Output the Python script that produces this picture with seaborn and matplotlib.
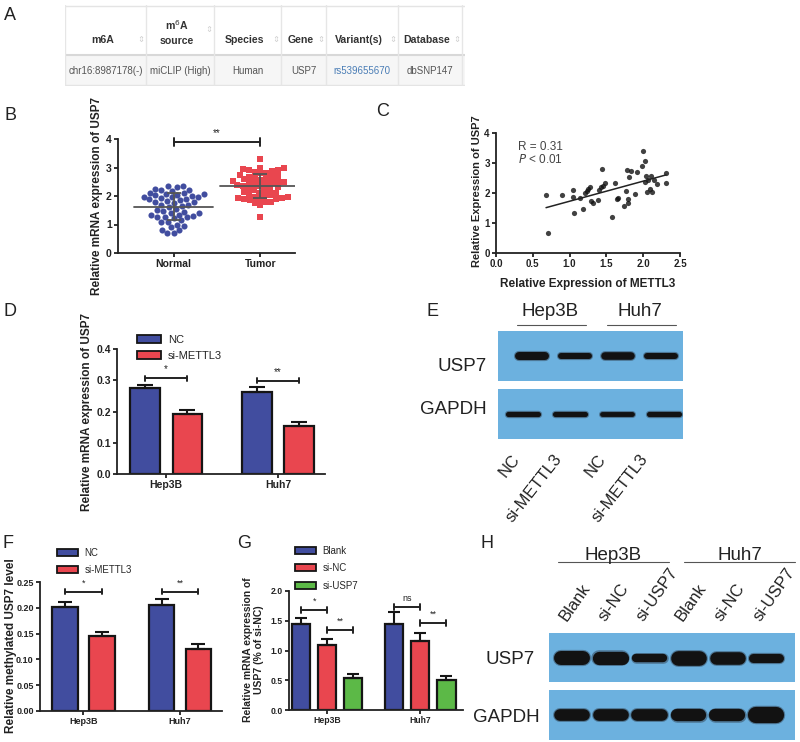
import numpy as np
import pandas as pd
import matplotlib
matplotlib.use('Agg')
import matplotlib.pyplot as plt
import matplotlib.transforms as mtransforms
from matplotlib.patches import Rectangle, Patch
from matplotlib.lines import Line2D
import seaborn as sns

sns.set_theme(style="ticks")
plt.rcParams['font.family'] = ['Liberation Sans', 'DejaVu Sans']

# --- dados ---
table_cols = ['m6A', 'm$^6$A\nsource', 'Species', 'Gene', 'Variant(s)', 'Database']
table_row = ['chr16:8987178(-)', 'miCLIP (High)', 'Human', 'USP7', 'rs539655670', 'dbSNP147']

normal_b = [2.36, 2.35, 2.33, 2.25, 2.22, 2.2, 2.18, 2.12, 2.1, 2.08, 2.06, 2.05, 2.02,
            2.0, 1.98, 1.95, 1.95, 1.92, 1.9, 1.88, 1.85, 1.82, 1.8, 1.78, 1.75, 1.7,
            1.68, 1.65, 1.62, 1.55, 1.5, 1.48, 1.45, 1.42, 1.4, 1.35, 1.32, 1.3, 1.28,
            1.26, 1.25, 1.22, 1.15, 1.1, 1.08, 1.0, 0.95, 0.9, 0.82, 0.8, 0.7, 0.7]
tumor_b = [3.3, 3.0, 2.98, 2.95, 2.92, 2.9, 2.88, 2.85, 2.82, 2.8, 2.72, 2.7, 2.68, 2.65,
           2.62, 2.6, 2.58, 2.55, 2.52, 2.5, 2.5, 2.48, 2.45, 2.42, 2.4, 2.38, 2.36, 2.35,
           2.3, 2.28, 2.25, 2.22, 2.2, 2.15, 2.12, 2.1, 2.08, 2.05, 2.0, 1.98, 1.95, 1.93,
           1.92, 1.9, 1.9, 1.88, 1.85, 1.8, 1.8, 1.75, 1.68, 1.28]

mettl3_c = [0.68, 0.71, 0.90, 1.04, 1.04, 1.06, 1.14, 1.18, 1.21, 1.23, 1.25, 1.28, 1.29,
            1.32, 1.39, 1.40, 1.42, 1.44, 1.46, 1.48, 1.57, 1.62, 1.64, 1.66, 1.74, 1.76,
            1.78, 1.79, 1.80, 1.81, 1.83, 1.89, 1.91, 1.98, 2.00, 2.02, 2.03, 2.04, 2.05,
            2.06, 2.09, 2.10, 2.12, 2.15, 2.19, 2.31, 2.31]
usp7_c = [1.93, 0.66, 1.92, 2.10, 1.87, 1.33, 1.83, 1.47, 2.00, 2.08, 2.14, 2.20, 1.74,
          1.67, 1.78, 2.11, 2.20, 2.79, 2.24, 2.34, 1.20, 2.34, 1.80, 1.83, 1.58, 2.06,
          2.78, 1.80, 1.67, 2.53, 2.74, 1.98, 2.71, 2.89, 3.39, 2.36, 3.08, 2.56, 2.02,
          2.44, 2.13, 2.58, 2.02, 2.44, 2.30, 2.67, 2.33]

cell_lines = ['Hep3B', 'Huh7']
groups_d = ['NC', 'si-METTL3']
d_nc = [0.275, 0.262]
d_si = [0.193, 0.153]
d_nc_err = [0.010, 0.017]
d_si_err = [0.012, 0.012]

f_nc = [0.202, 0.206]
f_si = [0.146, 0.120]
f_nc_err = [0.010, 0.012]
f_si_err = [0.008, 0.010]

groups_g = ['Blank', 'si-NC', 'si-USP7']
g_blank = [1.45, 1.45]
g_sinc = [1.10, 1.16]
g_siusp7 = [0.53, 0.50]
g_blank_err = [0.10, 0.20]
g_sinc_err = [0.10, 0.14]
g_siusp7_err = [0.07, 0.07]

lanes_e = ['NC', 'si-METTL3', 'NC', 'si-METTL3']
usp7_e = [1.0, 0.75, 0.95, 0.75]
gapdh_e = [0.8, 0.8, 0.75, 0.8]
lanes_h = ['Blank', 'si-NC', 'si-USP7', 'Blank', 'si-NC', 'si-USP7']
usp7_h = [1.0, 0.95, 0.6, 1.05, 0.9, 0.65]
gapdh_h = [0.9, 0.9, 0.9, 0.95, 0.95, 1.25]

BLUE = '#414d9f'
RED = '#e9464f'
GREEN = '#5cb947'
BLOT = '#6cb1df'

W, H = 800, 742
fig = plt.figure(figsize=(W / 100, H / 100), dpi=100)


def box(x0, y0, x1, y1):
    return fig.add_axes([x0 / W, 1 - y1 / H, (x1 - x0) / W, (y1 - y0) / H])


def ftext(x, y, s, **kw):
    fig.text(x / W, 1 - y / H, s, **kw)


def style_axes(ax, fs=7):
    sns.despine(ax=ax)
    for sp in ['left', 'bottom']:
        ax.spines[sp].set_linewidth(1.3)
        ax.spines[sp].set_color('#222222')
    ax.tick_params(width=1.3, length=3, labelsize=fs, pad=1.5, colors='#222222')
    for lab in ax.get_xticklabels() + ax.get_yticklabels():
        lab.set_fontweight('bold')
    ax.set_facecolor('none')


def ylabel_at(ax, text, x, y, fs=8):
    ax.set_ylabel(text, fontsize=fs, fontweight='bold', color='#222222')
    ax.yaxis.set_label_coords(x / W, 1 - y / H, transform=fig.transFigure)


def sig(ax, x1, x2, y, text, h, fs=7):
    ax.plot([x1, x2], [y, y], color='#222222', lw=1.4, clip_on=False)
    ax.plot([x1, x1], [y - h, y + h], color='#222222', lw=1.4, clip_on=False)
    ax.plot([x2, x2], [y - h, y + h], color='#222222', lw=1.4, clip_on=False)
    ax.annotate(text, xy=((x1 + x2) / 2, y), xytext=(0, 3), textcoords='offset points',
                ha='center', va='bottom', fontsize=fs, color='#222222', annotation_clip=False)


def bars(ax, df, hue_order, palette, width, gap, errs, capsize):
    sns.barplot(data=df, x='line', y='value', hue='group', order=cell_lines,
                hue_order=hue_order, palette=palette, width=width, gap=gap, saturation=1,
                edgecolor='#151515', linewidth=1.6, errorbar=None, legend=False, ax=ax)
    centers = []
    for cont, err in zip(ax.containers, errs):
        cs = []
        for bar, e in zip(cont, err):
            x = bar.get_x() + bar.get_width() / 2
            ax.errorbar(x, bar.get_height(), yerr=[[0], [e]], fmt='none', ecolor='#151515',
                        elinewidth=1.5, capsize=capsize, capthick=1.5, zorder=1)
            cs.append(x)
        centers.append(cs)
    return centers


def legend_at(handles_labels, x, y, fs, spacing):
    handles = [Patch(facecolor=c, edgecolor='#151515', linewidth=1.3) for c, _ in handles_labels]
    fig.legend(handles, [l for _, l in handles_labels], loc='upper left',
               bbox_to_anchor=(x / W, 1 - y / H), frameon=False, fontsize=fs,
               handlelength=2.2, handleheight=0.75, handletextpad=0.6,
               labelspacing=spacing, borderaxespad=0, borderpad=0)


# ---------------- Panel A: tabela ----------------
ax_t = box(65, 5, 465, 86)
ax_t.set_xlim(65, 465)
ax_t.set_ylim(86, 5)
ax_t.axis('off')
edges = [65, 146, 214, 281, 326, 398, 462]
ax_t.add_patch(Rectangle((65, 55), 400, 30, facecolor='#f6f6f6', edgecolor='none'))
ax_t.plot([65, 465], [5.5, 5.5], color='#e4e4e4', lw=1)
ax_t.plot([65, 465], [55, 55], color='#d8d8d8', lw=1.5)
ax_t.plot([65, 465], [85, 85], color='#e4e4e4', lw=1)
for xe in edges:
    ax_t.plot([xe, xe], [5, 85], color='#e6e6e6', lw=1)
for i, (col, val) in enumerate(zip(table_cols, table_row)):
    cx = (edges[i] + edges[i + 1]) / 2 - 3
    ax_t.text(cx, 40 if i != 1 else 32, col, ha='center', va='center', fontsize=7.6,
              fontweight='bold', color='#333333', linespacing=1.6)
    ax_t.text(cx + 3, 71, val, ha='center', va='center', fontsize=7.0,
              color='#4a7db6' if i == 4 else '#555555')
    ax_t.text(edges[i + 1] - 5, 40 if i != 1 else 29, '\u21d5', ha='center', va='center',
              fontsize=6, color='#d0d0d0', family='DejaVu Sans')

# ---------------- Panel B ----------------
ax_b = box(118, 139, 295, 253)
df_b = pd.DataFrame({'group': ['Normal'] * len(normal_b) + ['Tumor'] * len(tumor_b),
                     'value': normal_b + tumor_b})
sns.swarmplot(data=df_b[df_b.group == 'Normal'], x='group', y='value', order=['Normal', 'Tumor'],
              color=BLUE, marker='o', size=4.4, ax=ax_b)
sns.swarmplot(data=df_b[df_b.group == 'Tumor'], x='group', y='value', order=['Normal', 'Tumor'],
              color=RED, marker='s', size=4.1, ax=ax_b)
for i, vals in enumerate([normal_b, tumor_b]):
    m, s = np.mean(vals), np.std(vals, ddof=1)
    ax_b.plot([i - 0.46, i + 0.46], [m, m], color='#555555', lw=1.3, zorder=5)
    ax_b.errorbar(i, m, yerr=s, fmt='none', ecolor='#555555', elinewidth=1.3, capsize=5,
                  capthick=1.3, zorder=5)
ax_b.set_xlim(-0.64, 1.4)
ax_b.set_ylim(0, 4)
ax_b.set_yticks([0, 1, 2, 3, 4])
ax_b.set_xlabel('')
style_axes(ax_b, 7.5)
sig(ax_b, 0, 1, 3.89, '**', 0.13)
ylabel_at(ax_b, 'Relative mRNA expression of USP7', 103, 196, 8.5)

# ---------------- Panel C ----------------
ax_c = box(496, 133, 680, 253)
sns.regplot(x=mettl3_c, y=usp7_c, ci=None, ax=ax_c,
            scatter_kws=dict(s=14, color='#111111', linewidths=0),
            line_kws=dict(color='#222222', lw=1.1))
ax_c.set_xlim(0, 2.5)
ax_c.set_ylim(0, 4)
ax_c.set_xticks([0, 0.5, 1.0, 1.5, 2.0, 2.5])
ax_c.set_xticklabels(['0.0', '0.5', '1.0', '1.5', '2.0', '2.5'])
ax_c.set_yticks([0, 1, 2, 3, 4])
style_axes(ax_c, 7)
ax_c.text(0.3, 3.55, 'R = 0.31', fontsize=8.5, color='#444444', va='center')
ax_c.text(0.3, 3.12, '$P$ < 0.01', fontsize=8.5, color='#444444', va='center')
ylabel_at(ax_c, 'Relative Expression of USP7', 482, 191, 8)
ax_c.set_xlabel('Relative Expression of METTL3', fontsize=8.5, fontweight='bold', color='#222222')
ax_c.xaxis.set_label_coords(588 / W, 1 - 278 / H, transform=fig.transFigure)

# ---------------- Panel D ----------------
ax_d = box(117, 349, 325, 474)
df_d = pd.DataFrame({'line': cell_lines * 2, 'group': ['NC'] * 2 + ['si-METTL3'] * 2,
                     'value': d_nc + d_si})
cd = bars(ax_d, df_d, groups_d, [BLUE, RED], 0.76, 0.3, [d_nc_err, d_si_err], 5.5)
ax_d.set_xlim(-0.44, 1.42)
ax_d.set_ylim(0, 0.4)
ax_d.set_yticks([0, 0.1, 0.2, 0.3, 0.4])
ax_d.set_yticklabels(['0.0', '0.1', '0.2', '0.3', '0.4'])
ax_d.set_xlabel('')
style_axes(ax_d, 7.5)
sig(ax_d, cd[0][0], cd[1][0], 0.306, '*', 0.008)
sig(ax_d, cd[0][1], cd[1][1], 0.298, '**', 0.008)
ylabel_at(ax_d, 'Relative mRNA expression of USP7', 93, 412, 8.5)
legend_at([(BLUE, 'NC'), (RED, 'si-METTL3')], 137, 335, 8, 0.55)

# ---------------- Panel F ----------------
ax_f = box(40, 582, 222, 711)
df_f = pd.DataFrame({'line': cell_lines * 2, 'group': ['NC'] * 2 + ['si-METTL3'] * 2,
                     'value': f_nc + f_si})
cf = bars(ax_f, df_f, groups_d, [BLUE, RED], 0.766, 0.3, [f_nc_err, f_si_err], 5)
ax_f.set_xlim(-0.45, 1.435)
ax_f.set_ylim(0, 0.25)
ax_f.set_yticks([0, 0.05, 0.1, 0.15, 0.2, 0.25])
ax_f.set_yticklabels(['0.00', '0.05', '0.10', '0.15', '0.20', '0.25'])
ax_f.set_xlabel('')
style_axes(ax_f, 6.5)
sig(ax_f, cf[0][0], cf[1][0], 0.231, '*', 0.005, 6.5)
sig(ax_f, cf[0][1], cf[1][1], 0.231, '**', 0.005, 6.5)
ylabel_at(ax_f, 'Relative methylated USP7 level', 17, 646, 8.5)
legend_at([(BLUE, 'NC'), (RED, 'si-METTL3')], 57, 548, 7, 0.7)

# ---------------- Panel G ----------------
ax_g = box(289, 591, 463, 710)
df_g = pd.DataFrame({'line': cell_lines * 3,
                     'group': ['Blank'] * 2 + ['si-NC'] * 2 + ['si-USP7'] * 2,
                     'value': g_blank + g_sinc + g_siusp7})
cg = bars(ax_g, df_g, groups_g, [BLUE, RED, GREEN], 0.84, 0.29,
          [g_blank_err, g_sinc_err, g_siusp7_err], 4)
ax_g.set_xlim(-0.41, 1.46)
ax_g.set_ylim(0, 2.0)
ax_g.set_yticks([0, 0.5, 1.0, 1.5, 2.0])
ax_g.set_yticklabels(['0.0', '0.5', '1.0', '1.5', '2.0'])
ax_g.set_xlabel('')
style_axes(ax_g, 6.2)
sig(ax_g, cg[0][0], cg[1][0], 1.68, '*', 0.05, 6.5)
sig(ax_g, cg[1][0], cg[2][0], 1.35, '**', 0.05, 6.5)
sig(ax_g, cg[0][1], cg[1][1], 1.73, 'ns', 0.05, 6.5)
sig(ax_g, cg[1][1], cg[2][1], 1.46, '**', 0.05, 6.5)
ylabel_at(ax_g, 'Relative mRNA expression of\nUSP7 (% of si-NC)', 264, 650, 7.5)
ax_g.yaxis.label.set_linespacing(1.1)
legend_at([(BLUE, 'Blank'), (RED, 'si-NC'), (GREEN, 'si-USP7')], 295, 546, 7, 0.75)


# ---------------- Western blots ----------------
def blot(x0, y0, x1, y1, lane0, step, values, bw, bh):
    ax = box(x0, y0, x1, y1)
    ax.set_facecolor(BLOT)
    ax.set_xlim((x0 - lane0) / step, (x1 - lane0) / step)
    ax.set_ylim(-(y1 - y0) / 2, (y1 - y0) / 2)
    for i, v in enumerate(values):
        h = bh * v
        half = (bw - h) / 2 / step
        ax.plot([i - half, i + half], [0, 0], color='#2a3440', lw=h * 0.72 + 1.6,
                solid_capstyle='round', alpha=0.45)
        ax.plot([i - half, i + half], [0, 0], color='#121212', lw=h * 0.72,
                solid_capstyle='round')
    ax.set_xticks([])
    ax.set_yticks([])
    for sp in ax.spines.values():
        sp.set_visible(False)
    return ax


# Panel E
ax_e1 = blot(498, 331, 683, 381, 532, 43, usp7_e, 34, 8)
ax_e2 = blot(498, 389, 683, 439, 523, 47, gapdh_e, 35, 6.5)
ftext(487, 366, 'USP7', fontsize=13.5, ha='right', va='center', color='#222222')
ftext(487, 410, 'GAPDH', fontsize=13.5, ha='right', va='center', color='#222222')
ftext(550, 312, 'Hep3B', fontsize=13.5, ha='center', va='center', color='#222222')
ftext(640, 312, 'Huh7', fontsize=13.5, ha='center', va='center', color='#222222')
fig.add_artist(Line2D([517 / W, 586 / W], [1 - 325 / H] * 2, color='#555555', lw=0.8))
fig.add_artist(Line2D([607 / W, 676 / W], [1 - 325 / H] * 2, color='#555555', lw=0.8))
tr_e = mtransforms.blended_transform_factory(ax_e1.transData, fig.transFigure)
for i, lab in enumerate(lanes_e):
    ax_e1.text(i - 0.5, 1 - 452 / H, lab, transform=tr_e, rotation=52, rotation_mode='anchor',
               ha='right', va='top', fontsize=12, color='#222222')

# Panel H
ax_h1 = blot(549, 633, 795, 682, 572, 38.8, usp7_h, 36, 14)
ax_h2 = blot(549, 690, 795, 740, 572, 38.8, gapdh_h, 36, 13)
ftext(535, 660, 'USP7', fontsize=13.5, ha='right', va='center', color='#222222')
ftext(540, 718, 'GAPDH', fontsize=13.5, ha='right', va='center', color='#222222')
ftext(613, 555, 'Hep3B', fontsize=13.5, ha='center', va='center', color='#222222')
ftext(740, 555, 'Huh7', fontsize=13.5, ha='center', va='center', color='#222222')
fig.add_artist(Line2D([558 / W, 669 / W], [1 - 562 / H] * 2, color='#555555', lw=0.8))
fig.add_artist(Line2D([684 / W, 795 / W], [1 - 562 / H] * 2, color='#555555', lw=0.8))
tr_h = mtransforms.blended_transform_factory(ax_h1.transData, fig.transFigure)
for i, lab in enumerate(lanes_h):
    ax_h1.text(i - 0.08, 1 - 624 / H, lab, transform=tr_h, rotation=55, rotation_mode='anchor',
               ha='left', va='bottom', fontsize=12, color='#222222')

# rótulos dos painéis
for lab, x, y in [('A', 10, 16), ('B', 10, 116), ('C', 383, 111), ('D', 10, 312),
                  ('E', 432, 312), ('F', 8, 543), ('G', 244, 543), ('H', 487, 543)]:
    ftext(x, y, lab, fontsize=13, ha='center', va='center', color='#222222')

fig.savefig('out.png', dpi=100)
